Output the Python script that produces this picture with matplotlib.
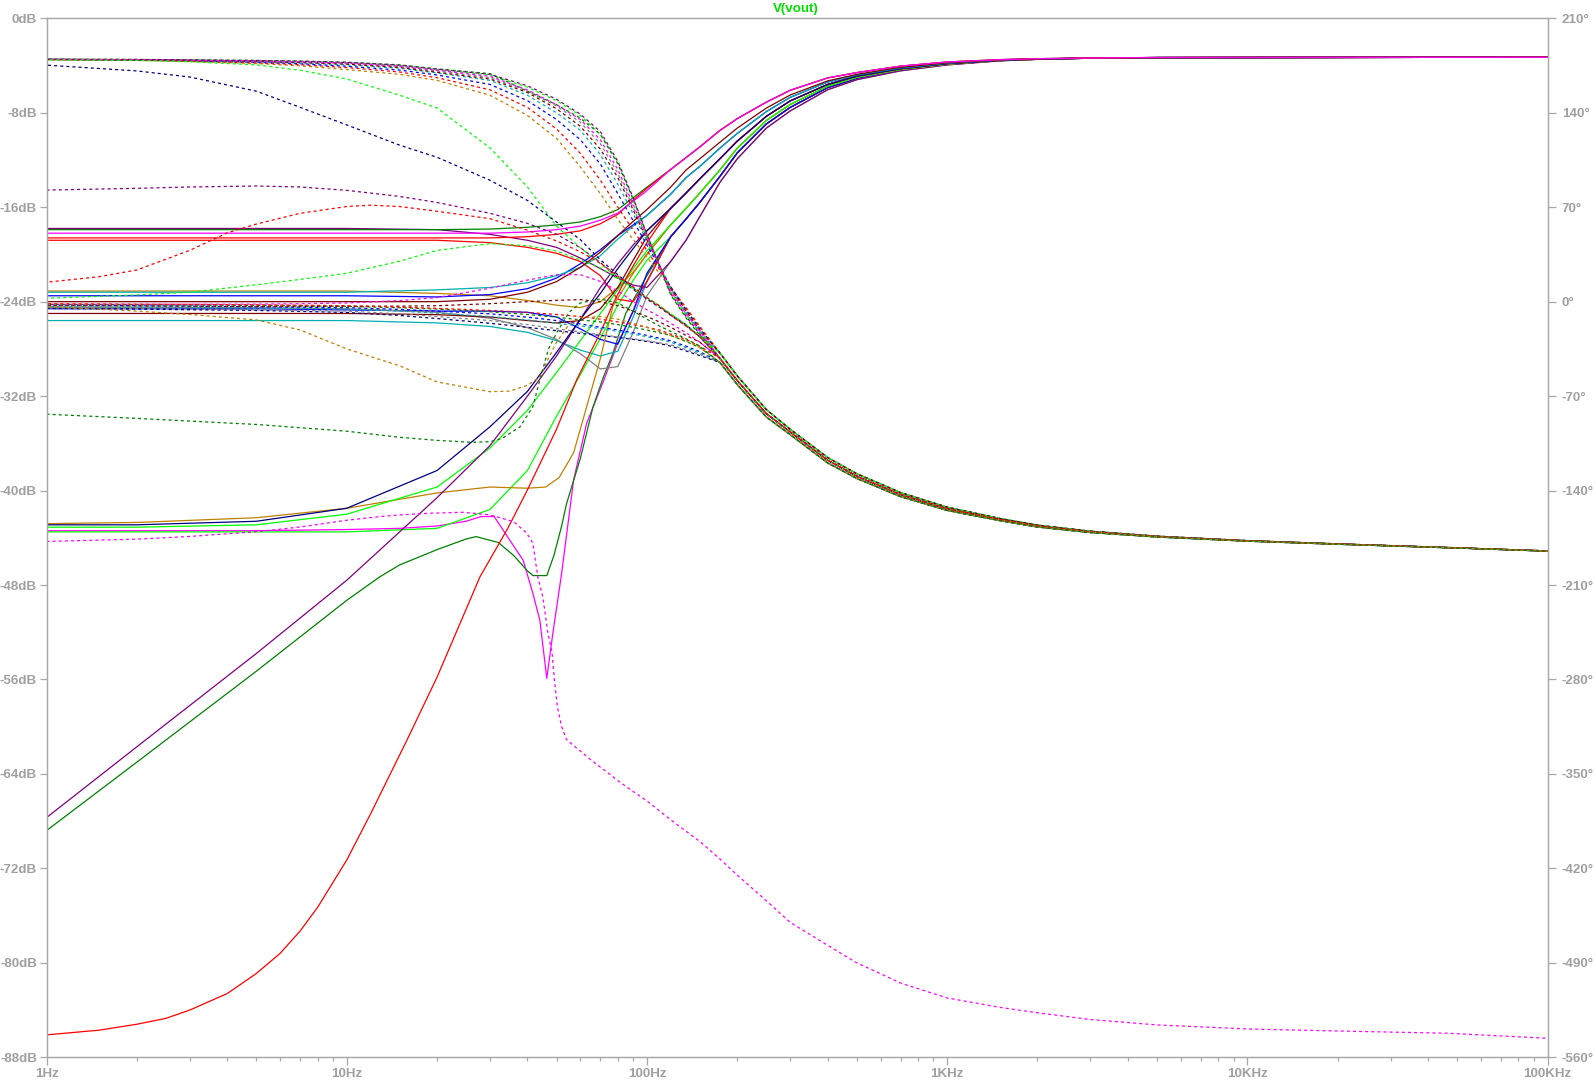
import matplotlib
matplotlib.use("Agg")
import matplotlib.pyplot as plt
from matplotlib.ticker import FixedLocator, LogLocator, NullFormatter

plt.rcParams['lines.scale_dashes'] = False
plt.rcParams['font.family'] = ['Liberation Sans', 'DejaVu Sans']

# ---------------- axes data ----------------
x_ticks = [1, 10, 100, 1000, 10000, 100000]
x_labels = ['1Hz', '10Hz', '100Hz', '1KHz', '10KHz', '100KHz']
db_ticks = list(range(-88, 1, 8))
deg_ticks = list(range(-560, 211, 70))
title_text = 'V(vout)'

# ---------------- magnitude (dB): low-frequency parts ----------------
FMH = [1, 2, 5, 10, 20, 30, 40, 50, 60, 70, 80, 90, 100]

mag_a_dkgreen = [-17.9, -17.9, -17.9, -17.9, -17.9, -17.85, -17.7, -17.5, -17.25, -16.8, -16.2, -15.2, -14.3]
mag_a_red2 = [-18.6, -18.6, -18.6, -18.6, -18.6, -18.6, -18.5, -18.3, -18.0, -17.4, -16.6, -15.4, -14.4]
mag_a_magenta = [-18.2, -18.2, -18.2, -18.2, -18.2, -18.2, -18.1, -17.9, -17.6, -17.1, -16.5, -15.5, -14.6]
mag_a_purple = [-17.8, -17.8, -17.8, -17.8, -17.9, -18.3, -18.8, -19.4, -20.3, -21.2, -22.0, -22.6, -22.8]
mag_a_red = [-18.8, -18.8, -18.8, -18.8, -18.8, -19.0, -19.4, -19.9, -20.6, -21.8, -23.8, -24.0, -22.3]
mag_b_brown = [-23.1, -23.1, -23.1, -23.1, -23.3, -23.5, -23.9, -24.3, -24.5, -24.0, -22.8, -21.5, -20.0]
mag_b_blue1 = [-23.5, -23.5, -23.5, -23.5, -23.6, -23.4, -22.9, -22.0, -20.8, -19.6, -18.4, -17.5, -16.7]
mag_b_blue2 = [-24.6, -24.6, -24.6, -24.7, -24.8, -24.8, -24.9, -25.3, -26.3, -27.2, -27.6, -24.8, -21.6]
mag_b_maroon1 = [-24.0, -24.0, -24.0, -24.0, -24.0, -23.8, -23.2, -22.3, -21.1, -19.8, -18.4, -17.2, -16.2]
mag_b_maroon2 = [-25.0, -25.0, -25.0, -25.0, -25.1, -25.3, -25.6, -25.8, -25.6, -24.6, -22.8, -20.5, -18.5]
mag_b_gray = [-24.5, -24.5, -24.5, -24.6, -24.9, -25.4, -26.2, -27.2, -28.4, -29.7, -29.5, -26.6, -23.5]
mag_b_cyan1 = [-23.2, -23.2, -23.2, -23.2, -23.0, -22.8, -22.4, -21.8, -21.1, -20.1, -18.7, -17.6, -16.7]
mag_b_cyan2 = [-25.6, -25.6, -25.6, -25.6, -25.8, -26.1, -26.6, -27.3, -28.1, -28.6, -28.2, -25.3, -22.3]
mag_c_navy = [-42.9, -42.9, -42.6, -41.5, -38.3, -34.6, -31.6, -28.3, -25.5, -23.3, -21.2, -19.5, -18.0]
mag_c_green1 = [-43.1, -43.1, -42.9, -42.0, -39.7, -36.4, -33.2, -30.0, -27.3, -25.0, -23.0, -21.2, -19.7]
mag_c_green2 = [-43.5, -43.5, -43.5, -43.5, -43.2, -41.6, -38.3, -33.7, -30.2, -27.1, -24.3, -22.2, -20.5]
mag_d_purple = [-67.7, -61.7, -53.8, -47.6, -40.6, -36.2, -32.0, -28.6, -25.5, -22.8, -20.8, -19.2, -18.0]

mag_c_brown_f = [1, 2, 5, 10, 20, 30, 40, 46, 51, 57, 63, 70, 77, 90, 100]
mag_c_brown = [-42.8, -42.7, -42.3, -41.5, -40.2, -39.7, -39.8, -39.7, -38.9, -36.8, -32.9, -28.8, -24.4, -21.6, -20.0]

mag_c_magenta_f = [1, 2, 5, 10, 15, 20, 25, 28, 31, 34.3, 38.7, 41.7, 44, 46.4, 48.6, 52, 57, 63, 72, 80, 90, 100]
mag_c_magenta = [-43.4, -43.4, -43.4, -43.3, -43.2, -43.0, -42.6, -42.2, -42.2, -43.9, -45.9, -48.7, -51.0, -55.9, -52.1, -47.0, -39.1, -34.3, -30.6, -27.5, -24.8, -22.3]

mag_d_dkgreen_f = [1, 2, 5, 10, 12.9, 15, 20, 25, 27, 32, 36, 40, 41.7, 46.4, 49, 52, 54, 60, 66, 71.6, 77, 85, 100]
mag_d_dkgreen = [-68.8, -63.0, -55.3, -49.3, -47.3, -46.3, -45.0, -44.1, -43.9, -44.4, -45.5, -46.8, -47.2, -47.2, -45.5, -43.0, -41.1, -37.3, -33.0, -30.4, -28.4, -25.0, -21.8]

mag_d_red_f = [1, 1.5, 2, 2.5, 3, 4, 5, 6, 7, 8, 10, 12, 15.9, 20, 27.8, 34.4, 39.9, 50, 58.4, 70, 77.4, 85.7, 100]
mag_d_red = [-86.1, -85.7, -85.2, -84.7, -84.0, -82.6, -80.9, -79.2, -77.3, -75.3, -71.3, -67.4, -61.1, -55.8, -47.3, -43.2, -40.0, -34.8, -30.6, -26.6, -24.1, -21.9, -19.0]

# ---------------- magnitude (dB): high-frequency bundle ----------------
FMT = [120, 135, 150, 175, 200, 250, 300, 400, 500, 700, 1000, 1500, 2000, 3000, 5000, 100000]
mag_tail_1 = [-12.8, -11.8, -10.9, -9.5, -8.5, -7.1, -6.1, -5.05, -4.6, -4.05, -3.7, -3.5, -3.42, -3.36, -3.32, -3.3]
mag_tail_2 = [-14.3, -12.85, -11.9, -10.5, -9.3, -7.6, -6.5, -5.3, -4.75, -4.15, -3.77, -3.53, -3.44, -3.37, -3.32, -3.3]
mag_tail_3 = [-14.9, -13.5, -12.55, -11.0, -9.75, -7.9, -6.7, -5.4, -4.8, -4.2, -3.8, -3.54, -3.44, -3.37, -3.32, -3.3]
mag_tail_4 = [-16.1, -14.8, -13.6, -11.9, -10.4, -8.3, -7.0, -5.6, -4.9, -4.27, -3.84, -3.56, -3.45, -3.37, -3.33, -3.3]
mag_tail_5 = [-17.5, -16.1, -14.8, -12.85, -11.0, -8.65, -7.3, -5.75, -5.0, -4.33, -3.88, -3.57, -3.46, -3.37, -3.33, -3.3]
mag_tail_6 = [-18.5, -17.0, -15.6, -13.4, -11.4, -8.95, -7.55, -5.87, -5.1, -4.38, -3.9, -3.58, -3.47, -3.38, -3.33, -3.3]
mag_tail_7 = [-20.6, -18.8, -16.8, -13.9, -11.9, -9.3, -7.85, -6.05, -5.2, -4.45, -3.95, -3.6, -3.48, -3.38, -3.33, -3.3]

# ---------------- phase (degrees): low-frequency parts ----------------
FPH = [1, 2, 3, 5, 7, 10, 15, 20, 30, 40, 50, 60, 70, 80, 90, 100, 110, 120, 135, 150]

ph_t_brown = [179.3, 178.8, 178.0, 176.5, 174.8, 172.0, 168.5, 164.0, 153.0, 138.0, 121.0, 100.0, 80.0, 61.0, 46.0, 33.0, 21.0, 10.0, -4.0, -18.0]
ph_t_red = [179.4, 179.0, 178.3, 177.0, 175.6, 173.5, 170.2, 166.0, 157.0, 144.0, 128.0, 110.0, 90.0, 70.0, 53.0, 38.0, 24.0, 11.0, -5.0, -19.0]
ph_t_blue = [179.5, 179.1, 178.5, 177.5, 176.3, 174.5, 171.6, 168.0, 161.0, 149.0, 135.0, 120.0, 102.0, 80.0, 60.0, 42.0, 26.0, 11.0, -6.0, -20.0]
ph_t_cyan = [179.5, 179.2, 178.7, 177.8, 176.9, 175.5, 173.0, 169.5, 164.0, 153.0, 140.0, 127.0, 109.0, 87.0, 65.0, 45.0, 27.0, 10.0, -8.0, -21.0]
ph_t_gray = [179.6, 179.3, 178.9, 178.2, 177.5, 176.5, 174.2, 171.0, 166.0, 156.0, 145.0, 133.0, 117.0, 95.0, 70.0, 47.0, 27.0, 9.0, -9.0, -22.0]
ph_t_green = [179.6, 179.4, 179.1, 178.5, 177.9, 177.0, 175.0, 172.0, 168.0, 159.0, 149.0, 138.0, 124.0, 103.0, 76.0, 49.0, 27.0, 7.0, -10.0, -23.0]
ph_t_dkgreen = [179.7, 179.5, 179.2, 178.8, 178.3, 177.5, 175.5, 172.5, 169.0, 156.0, 146.0, 136.0, 124.0, 102.0, 76.0, 50.0, 27.0, 5.0, -12.0, -25.0]
ph_t_purple = [179.7, 179.5, 179.2, 178.7, 178.2, 177.3, 175.3, 172.3, 168.5, 160.0, 150.0, 139.0, 126.0, 104.0, 77.0, 50.0, 27.0, 6.0, -11.0, -24.0]
ph_t_maroon = [179.5, 179.2, 178.7, 178.0, 177.2, 176.0, 173.5, 170.0, 165.0, 155.0, 143.0, 130.0, 113.0, 92.0, 68.0, 46.0, 27.0, 10.0, -7.0, -21.0]
ph_t_magenta = [179.6, 179.3, 178.9, 178.3, 177.7, 176.8, 174.5, 171.5, 167.0, 157.0, 146.0, 135.0, 120.0, 98.0, 72.0, 48.0, 27.0, 8.0, -9.0, -22.0]
ph_e_green = [179.2, 178.8, 177.8, 175.5, 171.5, 165.0, 153.0, 143.5, 114.0, 85.0, 56.0, 40.0, 28.0, 18.0, 10.0, 3.0, -3.0, -9.0, -17.0, -26.0]
ph_e_navy = [175.3, 171.0, 166.5, 156.0, 144.0, 131.0, 116.0, 107.0, 90.0, 75.0, 59.0, 46.0, 31.0, 20.0, 10.0, 2.0, -4.0, -10.0, -17.0, -26.0]
ph_l_blue = [-2.5, -3.0, -3.3, -3.8, -4.1, -4.5, -5.7, -7.0, -9.0, -11.5, -14.0, -16.5, -19.0, -21.0, -23.0, -25.0, -27.0, -29.0, -33.0, -37.0]
ph_l_cyan = [-3.5, -4.0, -4.3, -4.8, -5.1, -5.5, -7.0, -8.5, -11.0, -13.5, -16.0, -18.0, -20.0, -22.0, -24.0, -26.0, -28.0, -30.0, -34.0, -38.0]
ph_l_gray = [-4.5, -5.0, -5.4, -6.0, -6.5, -7.0, -9.0, -11.0, -14.0, -17.0, -20.0, -22.5, -24.5, -26.0, -27.5, -29.0, -30.5, -32.0, -35.5, -39.0]
ph_l_maroon = [-3.0, -3.2, -3.3, -3.5, -3.5, -3.5, -3.3, -3.0, -1.5, 0.0, 1.0, 1.5, 0.0, -3.0, -7.0, -11.0, -15.0, -19.0, -25.0, -30.0]
ph_l_navy = [-5.0, -5.5, -6.0, -6.5, -7.2, -8.0, -10.2, -12.5, -16.0, -19.0, -21.5, -23.5, -25.0, -26.5, -28.0, -29.5, -31.0, -33.0, -36.5, -40.0]
ph_l_magenta = [-2.0, -2.0, -1.9, -1.8, -1.5, -1.0, 0.8, 3.0, 10.0, 16.0, 20.0, 20.0, 15.0, 8.0, 0.0, -6.0, -11.0, -16.0, -23.0, -30.0]
ph_l_dkgreen = [-2.0, -2.3, -2.5, -2.8, -3.1, -3.5, -4.5, -5.5, -7.5, -9.5, -11.5, -13.5, -15.0, -17.0, -19.0, -21.0, -23.0, -25.0, -29.5, -34.0]
ph_l_red = [-1.5, -1.8, -2.0, -2.3, -2.6, -3.0, -4.0, -5.0, -6.5, -8.0, -9.5, -11.0, -13.0, -15.0, -17.0, -19.0, -21.0, -24.0, -28.0, -33.0]
ph_s_purple = [82.7, 84.0, 85.0, 85.7, 85.0, 82.5, 78.0, 73.5, 65.5, 58.0, 50.0, 40.0, 29.0, 18.0, 9.0, 2.0, -4.0, -10.0, -18.0, -26.0]
ph_s_green = [2.5, 5.0, 7.0, 12.5, 16.5, 21.0, 30.0, 38.0, 43.0, 41.5, 37.5, 31.0, 25.0, 17.0, 10.0, 3.0, -3.0, -9.0, -17.0, -26.0]

ph_s_red_f = [1, 1.5, 2, 3, 4, 5, 7, 10, 12, 15, 20, 30, 40, 50, 60, 70, 80, 90, 100, 110, 120, 135, 150]
ph_s_red = [14.4, 18.5, 23.5, 38.0, 51.0, 57.5, 65.5, 70.5, 71.5, 70.5, 67.0, 61.5, 53.0, 45.0, 37.0, 28.5, 19.0, 11.0, 3.0, -3.0, -10.0, -18.0, -26.0]

ph_s_brown_f = [1, 2, 3, 5, 7, 10, 15, 20, 30, 35, 40, 44, 47, 50, 55, 60, 70, 80, 90, 100, 110, 120, 135, 150]
ph_s_brown = [-3.7, -7.0, -9.5, -13.5, -21.0, -35.0, -47.5, -59.5, -66.7, -66.3, -62.0, -55.6, -42.0, -30.0, -17.0, -12.0, -11.0, -13.0, -16.0, -19.0, -22.0, -25.0, -29.0, -34.0]

ph_s_dkgreen_f = [1, 2, 5, 10, 15, 20, 26, 30, 33, 37.8, 41.7, 44, 47, 50, 55, 60, 70, 80, 90, 100, 110, 120, 135, 150]
ph_s_dkgreen = [-83.4, -86.5, -91.0, -96.0, -100.5, -102.8, -104.2, -103.8, -101.3, -92.7, -77.8, -58.0, -35.0, -23.2, -8.0, -1.0, 2.0, -1.0, -7.0, -13.0, -18.0, -22.0, -27.5, -33.0]

# full magenta phase trace (notch and deep roll-off)
ph_s_magenta_f = [1, 2, 3, 5, 7, 10, 12.9, 15, 18.9, 24.5, 30, 36, 39.8, 41.7, 43.3, 45, 46.8, 48.3, 49.2, 50.3, 52, 54, 57, 60, 65, 70, 75, 80, 90, 100, 120, 150, 175, 200, 250, 300, 400, 500, 600, 700, 850, 1000, 1500, 2000, 3000, 5000, 10000, 20000, 47000, 100000]
ph_s_magenta = [-177.7, -176.0, -174.0, -170.5, -167.0, -162.0, -159.3, -158.0, -156.8, -156.1, -158.0, -163.0, -171.6, -179.0, -204.0, -218.8, -245.5, -260.0, -280.4, -300.0, -315.0, -324.6, -329.0, -333.0, -339.5, -345.0, -350.0, -355.0, -363.0, -370.0, -384.0, -400.0, -413.0, -425.0, -444.0, -460.0, -477.0, -490.0, -498.0, -505.0, -511.0, -516.0, -523.0, -527.0, -532.0, -536.0, -539.0, -540.5, -542.2, -545.9]

# ---------------- phase (degrees): high-frequency bundle ----------------
FPT = [175, 200, 250, 300, 400, 500, 700, 1000, 1500, 2000, 3000, 5000, 10000, 20000, 50000, 100000]
ph_tail_a = [-38.0, -55.0, -80.0, -94.5, -115.5, -127.5, -141.5, -152.3, -160.7, -165.6, -170.1, -173.8, -177.1, -179.5, -182.4, -184.7]
ph_tail_b = [-42.0, -58.5, -83.0, -96.5, -117.5, -129.3, -143.0, -153.5, -161.5, -166.3, -170.6, -174.1, -177.3, -179.6, -182.5, -184.8]
ph_tail_c = [-45.0, -61.5, -85.5, -98.5, -119.5, -131.0, -144.5, -154.7, -162.3, -167.0, -171.1, -174.4, -177.5, -179.8, -182.6, -184.9]

# ---------------- styles ----------------
GREEN = '#00FF00'; BLUE = '#0000FF'; RED = '#FF0000'; CYAN = '#00B0B0'
MAGENTA = '#FF00FF'; BROWN = '#C08000'; GRAY = '#808080'; MAROON = '#800000'
DKGREEN = '#008000'; PURPLE = '#800080'; NAVY = '#000080'
AXC = '#A8A8A8'; TXC = '#A0A0A0'

mag_curves = [
    (mag_c_magenta_f, mag_c_magenta, mag_tail_6, MAGENTA),
    (mag_d_dkgreen_f, mag_d_dkgreen, mag_tail_6, DKGREEN),
    (FMH, mag_c_green2, mag_tail_6, GREEN),
    (FMH, mag_b_cyan2, mag_tail_6, CYAN),
    (FMH, mag_a_red, mag_tail_6, RED),
    (FMH, mag_b_blue2, mag_tail_6, BLUE),
    (FMH, mag_b_gray, mag_tail_7, GRAY),
    (FMH, mag_a_purple, mag_tail_7, PURPLE),
    (mag_c_brown_f, mag_c_brown, mag_tail_5, BROWN),
    (FMH, mag_b_brown, mag_tail_5, BROWN),
    (FMH, mag_c_green1, mag_tail_5, GREEN),
    (FMH, mag_b_maroon2, mag_tail_4, MAROON),
    (FMH, mag_d_purple, mag_tail_4, PURPLE),
    (mag_d_red_f, mag_d_red, mag_tail_4, RED),
    (FMH, mag_c_navy, mag_tail_4, NAVY),
    (FMH, mag_b_blue1, mag_tail_3, BLUE),
    (FMH, mag_b_cyan1, mag_tail_3, CYAN),
    (FMH, mag_b_maroon1, mag_tail_2, MAROON),
    (FMH, mag_a_dkgreen, mag_tail_1, DKGREEN),
    (FMH, mag_a_red2, mag_tail_1, RED),
    (FMH, mag_a_magenta, mag_tail_1, MAGENTA),
]

phase_curves = [
    (FPH, ph_t_brown, ph_tail_a, BROWN), (FPH, ph_t_red, ph_tail_a, RED),
    (FPH, ph_t_blue, ph_tail_a, BLUE), (FPH, ph_t_cyan, ph_tail_b, CYAN),
    (FPH, ph_t_gray, ph_tail_a, GRAY), (FPH, ph_t_green, ph_tail_b, GREEN),
    (FPH, ph_t_dkgreen, ph_tail_a, DKGREEN), (FPH, ph_t_purple, ph_tail_b, PURPLE),
    (FPH, ph_t_maroon, ph_tail_a, MAROON), (FPH, ph_t_magenta, ph_tail_b, MAGENTA),
    (FPH, ph_e_green, ph_tail_a, GREEN), (FPH, ph_e_navy, ph_tail_b, NAVY),
    (FPH, ph_l_blue, ph_tail_c, BLUE), (FPH, ph_l_cyan, ph_tail_c, CYAN),
    (FPH, ph_l_gray, ph_tail_c, GRAY), (FPH, ph_l_maroon, ph_tail_b, MAROON),
    (FPH, ph_l_navy, ph_tail_c, NAVY), (FPH, ph_l_magenta, ph_tail_b, MAGENTA),
    (FPH, ph_l_dkgreen, ph_tail_c, DKGREEN), (FPH, ph_l_red, ph_tail_b, RED),
    (FPH, ph_s_purple, ph_tail_b, PURPLE), (FPH, ph_s_green, ph_tail_b, GREEN),
    (ph_s_red_f, ph_s_red, ph_tail_b, RED), (ph_s_brown_f, ph_s_brown, ph_tail_c, BROWN),
    (ph_s_dkgreen_f, ph_s_dkgreen, ph_tail_c, DKGREEN),
]

W, H = 1596, 1083
fig = plt.figure(figsize=(W / 100, H / 100), dpi=100)
L, R, T, B = 46.5, 1547.5, 18.3, 1057.3
ax = fig.add_axes([L / W, 1 - B / H, (R - L) / W, (B - T) / H])
ax2 = ax.twinx()

for f, v, tail, c in mag_curves:
    ax.plot(list(f) + FMT, list(v) + tail, color=c, lw=0.9, solid_joinstyle='round')
for i, (f, v, tail, c) in enumerate(phase_curves):
    ax2.plot(list(f) + FPT, list(v) + tail, color=c, lw=0.9,
             linestyle=((i % 4) * 1.1, (2.2, 2.2)))
ax2.plot(ph_s_magenta_f, ph_s_magenta, color=MAGENTA, lw=0.9, linestyle=(0, (2.2, 2.2)))

ax.set_xscale('log')
ax.set_xlim(1, 1e5)
ax.set_ylim(-88, 0)
ax2.set_ylim(-560, 210)

ax.xaxis.set_major_locator(FixedLocator(x_ticks))
ax.set_xticklabels(x_labels)
ax.xaxis.set_minor_locator(LogLocator(base=10, subs=[2, 3, 4, 5, 6, 7, 8, 9], numticks=20))
ax.xaxis.set_minor_formatter(NullFormatter())
ax.set_yticks(db_ticks)
ax.set_yticklabels([f'{v}dB' for v in db_ticks])
ax2.set_yticks(deg_ticks)
ax2.set_yticklabels([f'{v}\u00b0' for v in deg_ticks])

fs = 9.6
for a in (ax, ax2):
    for s in a.spines.values():
        s.set_color(AXC)
        s.set_linewidth(0.9)
ax.tick_params(axis='x', which='major', direction='out', length=5.8, width=0.9, color=AXC,
               labelcolor=TXC, labelsize=fs, pad=2)
ax.tick_params(axis='x', which='minor', direction='out', length=3.2, width=0.9, color=AXC)
ax.tick_params(axis='y', which='major', direction='out', length=5.0, width=0.9, color=AXC,
               labelcolor=TXC, labelsize=fs, pad=1.9)
ax2.tick_params(axis='y', which='major', direction='out', length=5.8, width=0.9, color=AXC,
                labelcolor=TXC, labelsize=fs, pad=4.4)
for lab in ax.get_xticklabels() + ax.get_yticklabels() + ax2.get_yticklabels():
    lab.set_fontweight('bold')

fig.text(796 / W, 1 - 9 / H, title_text, color='#00E000', fontsize=fs, fontweight='bold',
         ha='center', va='center')

fig.savefig('out.png', dpi=100, facecolor='white')
